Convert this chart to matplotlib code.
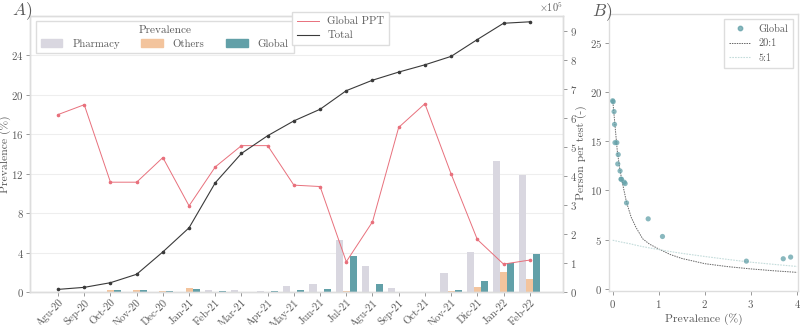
import matplotlib
matplotlib.use("Agg")
import matplotlib.pyplot as plt
from matplotlib.patches import Patch
from matplotlib.lines import Line2D
import numpy as np

plt.rcParams['font.family'] = 'serif'
plt.rcParams['font.serif'] = ['cmr10']
plt.rcParams['mathtext.fontset'] = 'cm'
plt.rcParams['axes.formatter.use_mathtext'] = True
plt.rcParams['axes.unicode_minus'] = False

# datos
months = ['Agu-20', 'Sep-20', 'Oct-20', 'Nov-20', 'Dec-20', 'Jan-21', 'Feb-21',
          'Mar-21', 'Apr-21', 'May-21', 'Jun-21', 'Jul-21', 'Agu-21', 'Sep-21',
          'Oct-21', 'Nov-21', 'Dic-21', 'Jan-22', 'Feb-22']
pharmacy = [0.0, 0.0, 0.0, 0.0, 0.0, 0.0, 0.25, 0.17, 0.15, 0.62, 0.84, 5.27,
            2.66, 0.43, 0.0, 1.89, 4.02, 13.3, 11.9]
others = [0.0, 0.0, 0.2, 0.2, 0.15, 0.37, 0.05, 0.03, 0.03, 0.03, 0.03, 0.1,
          0.05, 0.03, 0.0, 0.1, 0.5, 2.03, 1.32]
global_prev = [0.03, 0.01, 0.18, 0.19, 0.12, 0.30, 0.11, 0.05, 0.09, 0.25, 0.27,
               3.70, 0.77, 0.04, 0.0, 0.16, 1.08, 2.90, 3.86]
global_ppt = [18.0, 19.0, 11.14, 11.14, 13.64, 8.74, 12.69, 14.85, 14.85, 10.84,
              10.70, 3.07, 7.12, 16.7, 19.1, 11.98, 5.33, 2.83, 3.24]
total = [9000, 16000, 32000, 61000, 138000, 221000, 376000, 477000, 538000,
         589000, 629000, 693000, 729000, 757000, 782000, 811000, 869000,
         925000, 930000]

# curvas 20:1 y 5:1
curve_x = [0, 0.05, 0.1, 0.15, 0.2, 0.3, 0.4, 0.5, 0.65, 0.8, 1.0, 1.25, 1.5,
           2.0, 2.5, 3.0, 3.5, 4.0]
curve_20 = [19.2, 16.6, 14.0, 12.3, 11.0, 8.8, 7.3, 6.3, 5.1, 4.55, 4.06, 3.5,
            3.1, 2.57, 2.27, 2.04, 1.85, 1.69]
curve_5 = [4.95, 4.9, 4.85, 4.8, 4.75, 4.66, 4.57, 4.45, 4.3, 4.17, 4.0, 3.8,
           3.62, 3.3, 3.0, 2.72, 2.5, 2.29]

c_pharm = '#d9d7e0'
c_oth = '#f3c49d'
c_glob = '#62a0a8'
c_ppt = '#e8707c'
c_tot = '#3a3a3a'
c_txt = '#5a5a5a'
c_spine = '#dddddd'
c_20 = '#666666'
c_5 = '#c4dcdb'
fs_tick = 7.8
fs_leg = 7.8
fs_lab = 8.4

fig = plt.figure(figsize=(8, 3.25), dpi=100)
axA = fig.add_axes([30/800, 1 - 292/325, 533/800, 276/325])
axB = fig.add_axes([609/800, 1 - 291/325, 189/800, 277/325])

x = np.arange(len(months))
w = 0.27
axA.bar(x - w, pharmacy, w, color=c_pharm, zorder=2)
axA.bar(x, others, w, color=c_oth, zorder=2)
axA.bar(x + w, global_prev, w, color=c_glob, zorder=2)
axA.plot(x, global_ppt, color=c_ppt, lw=0.7, marker='o', ms=1.6, zorder=3)
axA.set_xlim(-1.07, 19.27)
axA.set_ylim(0, 28)
axA.set_yticks([0, 4, 8, 12, 16, 20, 24])
axA.set_xticks(x)
axA.set_xticklabels(months, rotation=45, ha='right', rotation_mode='anchor')
axA.set_ylabel('Prevalence (%)', color=c_txt, fontsize=fs_lab)
axA.yaxis.set_label_coords(-0.036, 0.5)
axA.grid(axis='y', color='#eeeeee', lw=0.8, zorder=0)
axA.set_axisbelow(True)

axR = axA.twinx()
axR.plot(x, total, color=c_tot, lw=0.8, marker='o', ms=1.6, zorder=3)
axR.set_ylim(0, 950000)
axR.set_yticks(np.arange(0, 10) * 100000)
axR.ticklabel_format(axis='y', style='sci', scilimits=(5, 5))

for ax in (axA, axR, axB):
    for s in ax.spines.values():
        s.set_color(c_spine)
        s.set_linewidth(1.0)
    ax.tick_params(colors='#888888', labelcolor=c_txt, labelsize=fs_tick,
                   length=3, width=0.6, pad=2)
axA.tick_params(axis='x', pad=1)
axA.tick_params(axis='y', pad=1.5)
axR.yaxis.get_offset_text().set_color(c_txt)
axR.yaxis.get_offset_text().set_fontsize(fs_tick - 0.4)

leg1 = axR.legend(handles=[Patch(color=c_pharm, label='Pharmacy'),
                           Patch(color=c_oth, label='Others'),
                           Patch(color=c_glob, label='Global')],
                  title='Prevalence', ncol=3, loc='upper left',
                  bbox_to_anchor=(0.011, 0.982), borderaxespad=0,
                  fontsize=fs_leg, title_fontsize=fs_leg + 0.3,
                  handlelength=2.0, handleheight=0.7, columnspacing=2.0,
                  handletextpad=0.9, edgecolor=c_spine, fancybox=False,
                  framealpha=1, borderpad=0.45, labelspacing=0.3)
for t in leg1.get_texts():
    t.set_color(c_txt)
leg1.get_title().set_color(c_txt)
axR.add_artist(leg1)
leg2 = axR.legend(handles=[Line2D([], [], color=c_ppt, lw=0.7, label='Global PPT'),
                           Line2D([], [], color=c_tot, lw=0.8, label='Total')],
                  loc='upper left', bbox_to_anchor=(0.4916, 1.0145),
                  borderaxespad=0, fontsize=fs_leg, handlelength=2.0,
                  handletextpad=0.8, edgecolor=c_spine, fancybox=False,
                  framealpha=1, borderpad=0.45, labelspacing=0.4)
for t in leg2.get_texts():
    t.set_color(c_txt)

# panel B
axB.plot(curve_x, curve_20, color=c_20, lw=0.7, ls='--', dashes=(1.5, 1),
         zorder=2)
axB.plot(curve_x, curve_5, color=c_5, lw=0.8, ls='--', dashes=(1.5, 1),
         zorder=2)
axB.scatter(global_prev, global_ppt, s=14, color=c_glob, alpha=0.75,
            edgecolors='none', zorder=3)
axB.set_xlim(-0.08, 4.02)
axB.set_ylim(-0.2, 27.9)
axB.set_xticks([0, 1, 2, 3, 4])
axB.set_yticks([0, 5, 10, 15, 20, 25])
axB.set_xlabel('Prevalence (%)', color=c_txt, fontsize=fs_lab, labelpad=2)
axB.set_ylabel('Person per test (-)', color=c_txt, fontsize=fs_lab, labelpad=2)
legB = axB.legend(handles=[Line2D([], [], color=c_glob, alpha=0.75, marker='o',
                                  ls='none', ms=3.2, label='Global'),
                           Line2D([], [], color=c_20, lw=0.7, ls='--',
                                  dashes=(1.5, 1), label='20:1'),
                           Line2D([], [], color=c_5, lw=0.8, ls='--',
                                  dashes=(1.5, 1), label='5:1')],
                  loc='upper right', bbox_to_anchor=(0.974, 0.982),
                  borderaxespad=0, fontsize=fs_tick - 0.4, handlelength=2.0,
                  handletextpad=0.8, edgecolor=c_spine, fancybox=False,
                  framealpha=1, borderpad=0.5, labelspacing=0.5)
for t in legB.get_texts():
    t.set_color(c_txt)

fig.text(12/800, 1 - 11/325, r'$A)$', fontsize=12.5, color=c_txt, va='center')
fig.text(592/800, 1 - 12/325, r'$B)$', fontsize=12.5, color=c_txt, va='center')

fig.savefig('out.png', dpi=100)
